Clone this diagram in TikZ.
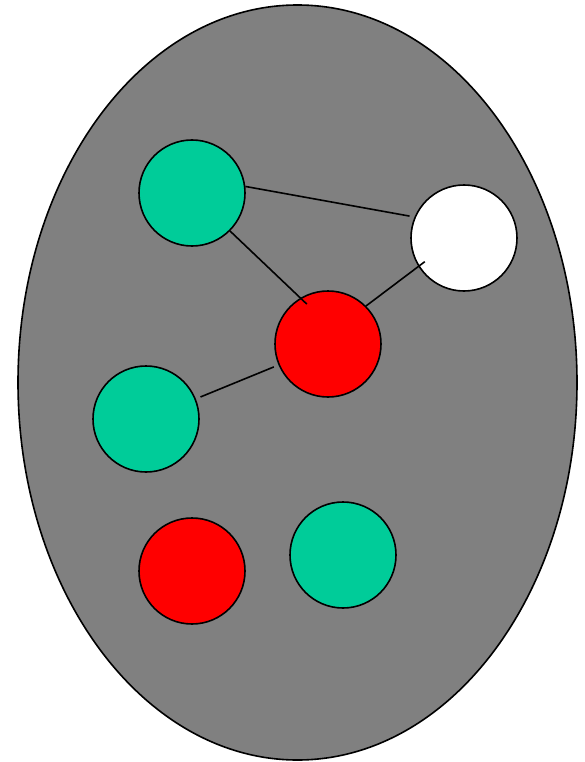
\documentclass[tikz,border=0pt]{standalone}
\usepackage{tikz}
\usetikzlibrary{shapes.geometric, positioning}
\definecolor{blobbg}{HTML}{808080}
\definecolor{vgreen}{HTML}{00CC99}
\definecolor{vred}{HTML}{FF0000}
\begin{document}
\begin{tikzpicture}[
    x=1pt, y=-1pt,
    % 1. 外部大椭圆
    blob/.style={
        ellipse,
        draw=black,
        fill=blobbg,
        line width=1.6pt,
        minimum width=559pt,
        minimum height=755pt,
        inner sep=0pt
    },
    % 2. 圆形顶点
    vertex/.style={
        circle,
        draw=black,
        line width=1.6pt,
        minimum size=106pt,
        inner sep=0pt
    },
    % 3. 连线
    edge/.style={
        draw=black,
        line width=1.6pt
    }
]
    \useasboundingbox (0,0) rectangle (584,762);

    % --- 1. 背景椭圆 ---
    \node[blob] (blob) at (297.5,382.5) {};

    % --- 2. 顶点 ---
    \node[vertex, fill=vgreen] (topgreen) at (192,193) {};
    \node[vertex, fill=white] (white) at (464,238) {};
    \node[vertex, fill=vred] (midred) at (328,344) {};
    \node[vertex, fill=vgreen] (leftgreen) at (146,419) {};
    \node[vertex, fill=vred] (lowred) at (192,571) {};
    \node[vertex, fill=vgreen] (lowgreen) at (343,555) {};

    % --- 3. 连线 ---
    \draw[edge, shorten >=5pt] (topgreen.7) -- (white.157);
    \draw[edge, shorten >=-9pt] (topgreen.-45) -- (midred.121);
    \draw[edge, shorten >=-8pt] (midred.45) -- (white.212);
    \draw[edge, shorten <=5pt, shorten >=5pt] (leftgreen.22) -- (midred.203);

\end{tikzpicture}
\end{document}
